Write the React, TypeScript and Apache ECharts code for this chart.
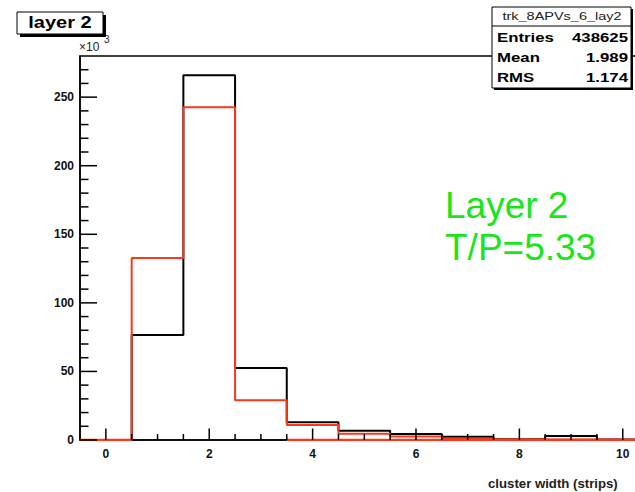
import React, { useEffect, useRef } from "react";
import * as echarts from "echarts";

// ---- data (thousands of entries per bin) ----
const binCenters = [0, 1, 2, 3, 4, 5, 6, 7, 8, 9, 10];
const blackCounts = [0, 76.5, 266, 52.5, 13, 6.8, 4.4, 2.4, 0.5, 3.0, 0.3];
const redCounts = [0, 132.7, 242.7, 29, 11, 4.5, 2.5, 1.0, 0.4, 0.3, 0.2];
const redBaseline = [0, null, null, null, 0, 0, 0, 0, 0, 0, 0];

// ---- axis ranges & ticks ----
const xRange = [-0.5, 10.5];
const yRange = [0, 280];
const xLabelTicks = [0, 2, 4, 6, 8, 10];
const xMinorTicks = [0.5, 1, 1.5, 2.5, 3, 3.5, 4.5, 5, 5.5, 6.5, 7, 7.5, 8.5, 9, 9.5, 10.5];
const yLabelTicks = [0, 50, 100, 150, 200, 250];
const yMinorTicks = [10, 20, 30, 40, 60, 70, 80, 90, 110, 120, 130, 140, 160, 170, 180, 190, 210, 220, 230, 240, 260, 270];

// ---- texts ----
const titleText = "layer 2";
const statsTitle = "trk_8APVs_6_lay2";
const statsNames = ["Entries", "Mean", "RMS"];
const statsValues = ["438625", "1.989", "1.174"];
const noteLines = ["Layer 2", "T/P=5.33"];
const xTitle = "cluster width (strips)";

const FONT = "'Liberation Sans', Arial, Helvetica, sans-serif";

function steps(vals: (number | null)[]) {
  const pts: any[] = [];
  vals.forEach((v, i) => {
    const c = binCenters[i];
    if (v == null) {
      pts.push([c - 0.5, "-"]);
      pts.push([c + 0.5, "-"]);
    } else {
      pts.push([c - 0.5, v]);
      pts.push([c + 0.5, v]);
    }
  });
  return pts;
}

function tickSeries(values: number[], dir: "x" | "y", len: number) {
  return {
    type: "custom",
    xAxisIndex: 0,
    yAxisIndex: 0,
    silent: true,
    clip: false,
    z: 5,
    data: values.map((v) => (dir === "x" ? [v, yRange[0]] : [xRange[0], v])),
    renderItem: (params: any, api: any) => {
      const p = api.coord([api.value(0), api.value(1)]);
      const shape =
        dir === "x"
          ? { x1: p[0], y1: p[1], x2: p[0], y2: p[1] - len }
          : { x1: p[0], y1: p[1], x2: p[0] + len, y2: p[1] };
      return { type: "line", shape, style: { stroke: "#000", lineWidth: 1.5 } };
    },
  };
}

export default function App() {
  const ref = useRef<HTMLDivElement>(null);
  useEffect(() => {
    if (!ref.current) return;
    const chart = echarts.init(ref.current, undefined, { renderer: "svg" });
    const black = "#000000";
    const red = "#f8391c";
    const statRowsY = [38, 58, 78];
    const option: any = {
      animation: false,
      backgroundColor: "#ffffff",
      grid: {
        left: 80,
        top: 56,
        width: 568.6,
        height: 384,
        outerBoundsMode: "none",
        containLabel: false,
        show: true,
        borderColor: black,
        borderWidth: 1.5,
        backgroundColor: "transparent",
      },
      xAxis: {
        type: "value",
        min: xRange[0],
        max: xRange[1],
        position: "bottom",
        axisLine: { show: true, onZero: false, lineStyle: { color: black, width: 1.5 } },
        axisTick: { show: false },
        axisLabel: {
          show: true,
          customValues: xLabelTicks,
          margin: 8,
          color: "#111",
          fontSize: 12,
          fontWeight: "bold",
          fontFamily: FONT,
        },
        splitLine: { show: false },
      },
      yAxis: {
        type: "value",
        min: yRange[0],
        max: yRange[1],
        position: "left",
        axisLine: { show: true, onZero: false, lineStyle: { color: black, width: 1.5 } },
        axisTick: { show: false },
        axisLabel: {
          show: true,
          customValues: yLabelTicks,
          margin: 6,
          color: "#111",
          fontSize: 12,
          fontWeight: "bold",
          fontFamily: FONT,
        },
        splitLine: { show: false },
      },
      series: [
        tickSeries(xLabelTicks, "x", 11.5),
        tickSeries(xMinorTicks, "x", 6),
        tickSeries(yLabelTicks, "y", 17),
        tickSeries(yMinorTicks, "y", 8.5),
        {
          type: "line",
          name: "black",
          data: steps(blackCounts),
          symbol: "none",
          lineStyle: { color: black, width: 2 },
          z: 3,
        },
        {
          type: "line",
          name: "red",
          data: steps(redCounts),
          symbol: "none",
          lineStyle: { color: red, width: 2 },
          z: 4,
        },
        {
          type: "line",
          name: "redBase",
          data: steps(redBaseline),
          symbol: "none",
          connectNulls: false,
          lineStyle: { color: red, width: 2.5 },
          z: 4,
        },
      ],
      graphic: [
        // exponent label
        {
          type: "text",
          x: 79,
          y: 47,
          z: 10,
          style: { text: "×10", fill: "#222", font: `12px ${FONT}`, verticalAlign: "middle", align: "left" },
        },
        {
          type: "text",
          x: 104,
          y: 39,
          z: 10,
          style: { text: "3", fill: "#222", font: `10px ${FONT}`, verticalAlign: "middle", align: "left" },
        },
        // title box
        { type: "rect", z: 20, shape: { x: 20, y: 15, width: 86, height: 22 }, style: { fill: black } },
        {
          type: "rect",
          z: 21,
          shape: { x: 17, y: 12, width: 86, height: 22 },
          style: { fill: "#fff", stroke: black, lineWidth: 1 },
        },
        {
          type: "text",
          z: 22,
          x: 60,
          y: 23,
          scaleX: 1.25,
          style: { text: titleText, fill: black, font: `bold 16px ${FONT}`, align: "center", verticalAlign: "middle" },
        },
        // stats box
        { type: "rect", z: 20, shape: { x: 494, y: 9, width: 139, height: 81 }, style: { fill: black } },
        {
          type: "rect",
          z: 21,
          shape: { x: 492, y: 7, width: 139, height: 81 },
          style: { fill: "#fff", stroke: black, lineWidth: 1 },
        },
        {
          type: "line",
          z: 22,
          shape: { x1: 492, y1: 26, x2: 631, y2: 26 },
          style: { stroke: black, lineWidth: 1 },
        },
        {
          type: "text",
          z: 22,
          x: 562,
          y: 17,
          scaleX: 1.45,
          style: { text: statsTitle, fill: "#222", font: `10px ${FONT}`, align: "center", verticalAlign: "middle" },
        },
        ...statsNames.map((n, i) => ({
          type: "text",
          z: 22,
          x: 497,
          y: statRowsY[i],
          scaleX: 1.4,
          style: { text: n, fill: black, font: `bold 12px ${FONT}`, align: "left", verticalAlign: "middle" },
        })),
        ...statsValues.map((v, i) => ({
          type: "text",
          z: 22,
          x: 628,
          y: statRowsY[i],
          scaleX: 1.4,
          style: { text: v, fill: black, font: `bold 12px ${FONT}`, align: "right", verticalAlign: "middle" },
        })),
        // green annotation
        ...noteLines.map((t, i) => ({
          type: "text",
          z: 22,
          x: 445,
          y: 205 + i * 42,
          style: { text: t, fill: "#19e619", font: `37px ${FONT}`, align: "left", verticalAlign: "middle" },
        })),
        // x axis title
        {
          type: "text",
          z: 22,
          x: 488,
          y: 484,
          scaleX: 1.1,
          style: { text: xTitle, fill: "#222", font: `bold 12px ${FONT}`, align: "left", verticalAlign: "middle" },
        },
      ],
    };
    chart.setOption(option);
    return () => chart.dispose();
  }, []);
  return (
    <div
      ref={ref}
      style={{ position: "fixed", left: 0, top: 0, width: 635, height: 492, background: "#fff" }}
    />
  );
}
